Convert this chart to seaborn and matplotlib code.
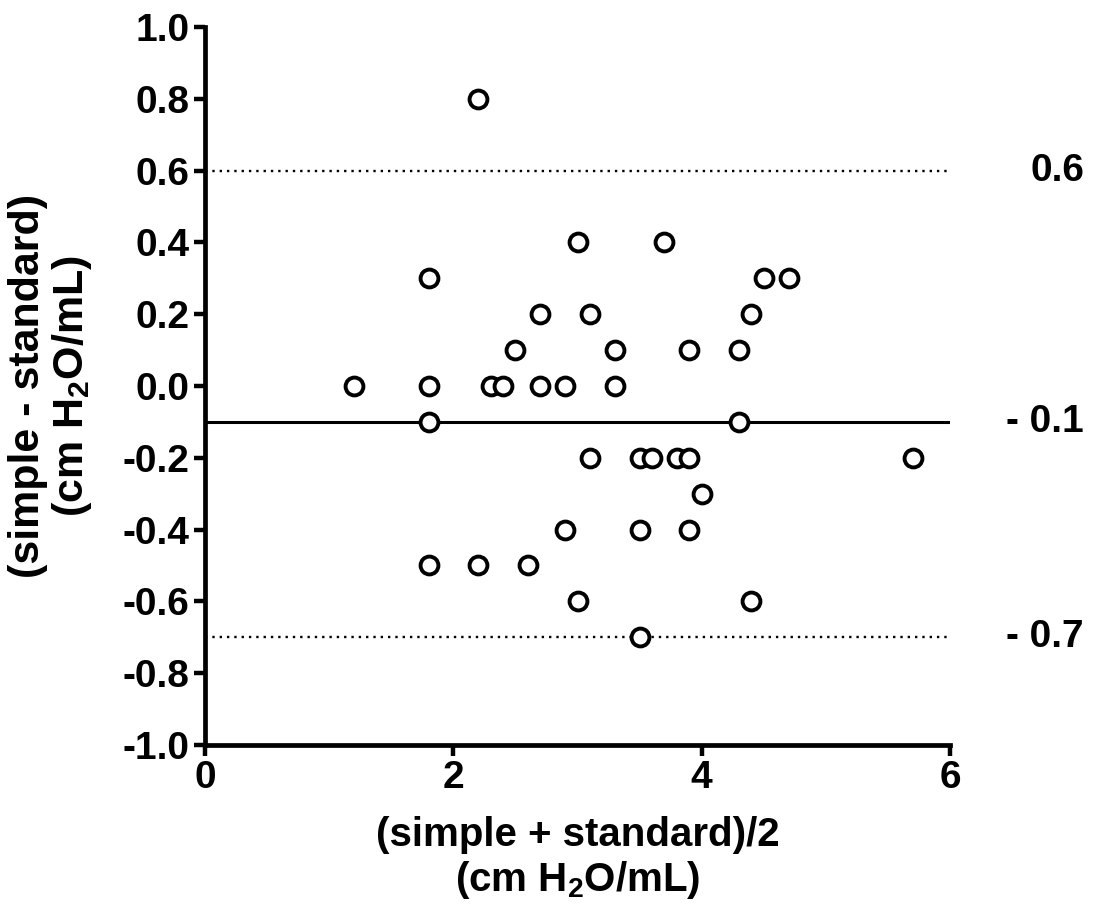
import matplotlib
matplotlib.use("Agg")
import matplotlib.pyplot as plt
import matplotlib.transforms as mtransforms
import seaborn as sns
import pandas as pd

# ---- data ----
mean_vals = [2.2, 3.0, 3.7, 1.8, 4.5, 4.7, 2.7, 3.1, 4.4, 2.5, 3.3, 3.9, 4.3,
             1.2, 1.8, 2.3, 2.4, 2.7, 2.9, 3.3, 1.8, 4.3,
             3.1, 3.5, 3.6, 3.8, 3.9, 5.7, 4.0, 2.9, 3.5, 3.9,
             1.8, 2.2, 2.6, 3.0, 4.4, 3.5]
diff_vals = [0.8, 0.4, 0.4, 0.3, 0.3, 0.3, 0.2, 0.2, 0.2, 0.1, 0.1, 0.1, 0.1,
             0.0, 0.0, 0.0, 0.0, 0.0, 0.0, 0.0, -0.1, -0.1,
             -0.2, -0.2, -0.2, -0.2, -0.2, -0.2, -0.3, -0.4, -0.4, -0.4,
             -0.5, -0.5, -0.5, -0.6, -0.6, -0.7]
bias = -0.1
upper_loa = 0.6
lower_loa = -0.7
loa_labels = ["0.6", "- 0.1", "- 0.7"]
x_ticks = [0, 2, 4, 6]
y_ticks = [-1.0, -0.8, -0.6, -0.4, -0.2, 0.0, 0.2, 0.4, 0.6, 0.8, 1.0]

sns.set_theme(style="ticks")
plt.rcParams["font.family"] = ["Liberation Sans", "DejaVu Sans"]
plt.rcParams["font.weight"] = "bold"
plt.rcParams["mathtext.fontset"] = "custom"
plt.rcParams["mathtext.rm"] = "Liberation Sans:bold"
plt.rcParams["mathtext.it"] = "Liberation Sans:bold"
plt.rcParams["mathtext.bf"] = "Liberation Sans:bold"
for key in ["text.color", "axes.labelcolor", "xtick.color", "ytick.color", "axes.edgecolor"]:
    plt.rcParams[key] = "black"

df = pd.DataFrame({"mean": mean_vals, "diff": diff_vals})

fig = plt.figure(figsize=(10.95, 9.13), dpi=100)
ax = fig.add_axes([205 / 1095, 1 - 745 / 913, 745 / 1095, 718 / 913])

ax.axhline(bias, color="black", lw=2.2, zorder=1)
ax.axhline(upper_loa, color="black", lw=1.7, ls=(0, (1, 2.1)), zorder=1)
ax.axhline(lower_loa, color="black", lw=1.7, ls=(0, (1, 2.1)), zorder=1)

sns.scatterplot(data=df, x="mean", y="diff", ax=ax, marker="o", s=165,
                facecolor="white", edgecolor="black", linewidth=2.8, zorder=3)

ax.set_xlim(0, 6)
ax.set_ylim(-1.0, 1.0)
ax.set_xticks(x_ticks)
ax.set_yticks(y_ticks)
ax.set_yticklabels([f"{v:.1f}" for v in y_ticks])
ax.tick_params(axis="both", labelsize=28, width=3.2, length=8, direction="out",
               pad=3, colors="black")
for lab in ax.get_xticklabels() + ax.get_yticklabels():
    lab.set_fontweight("bold")
sns.despine(ax=ax)
for sp in ["left", "bottom"]:
    ax.spines[sp].set_linewidth(3.4)

ax.set_xlabel("(simple + standard)/2\n(cm H$_2$O/mL)", fontsize=29,
              fontweight="bold", linespacing=1.17, labelpad=14)
ax.set_ylabel("(simple - standard)\n(cm H$_2$O/mL)", fontsize=31,
              fontweight="bold", linespacing=1.05, labelpad=21)

trans = mtransforms.blended_transform_factory(ax.transAxes, ax.transData)
for yv, txt in zip([upper_loa, bias, lower_loa], loa_labels):
    ax.text(1.18, yv, txt, transform=trans, ha="right", va="center",
            fontsize=28, fontweight="bold")

fig.savefig("out.png", dpi=100)
